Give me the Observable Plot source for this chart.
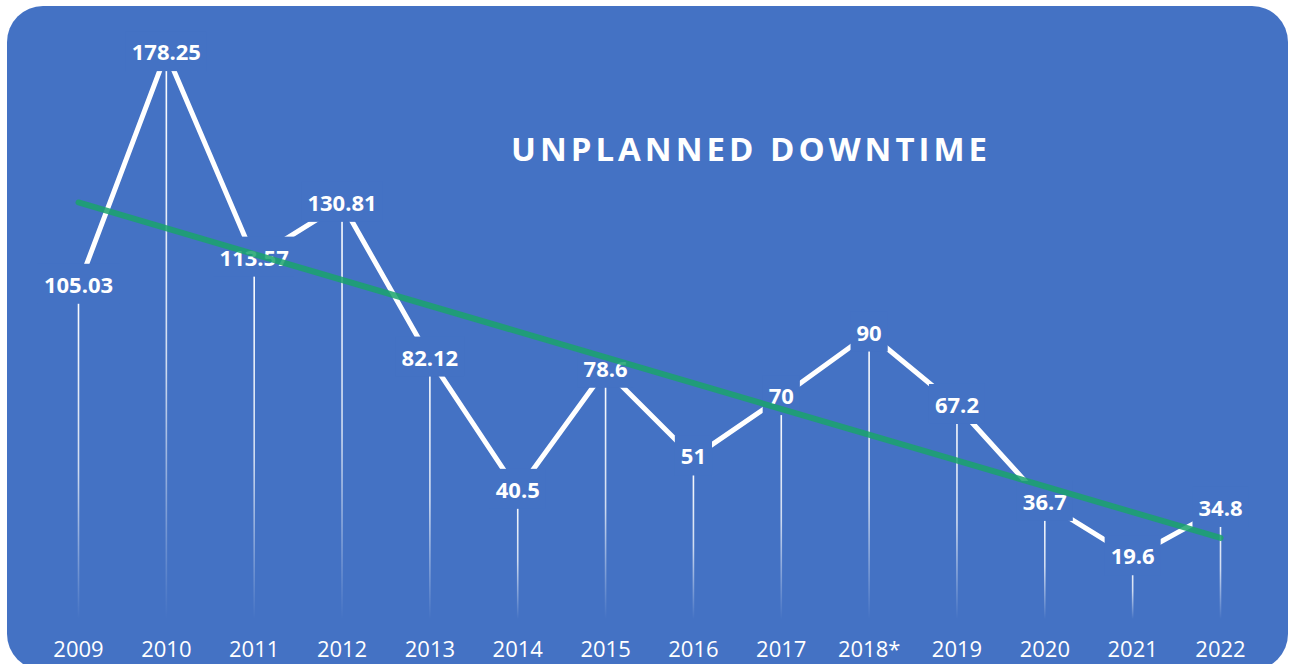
<!DOCTYPE html>
<html><head><meta charset="utf-8">
<script src="https://cdn.jsdelivr.net/npm/d3@7"></script>
<script src="https://cdn.jsdelivr.net/npm/@observablehq/plot@0.6"></script>
<style>
html,body{margin:0;padding:0;background:#fff;width:1289px;height:664px;overflow:hidden;}
#card{position:absolute;left:7px;top:6px;width:1281px;height:664px;border-radius:36px;background:#4472C4;}
#chart{position:absolute;left:0;top:0;}
#title{position:absolute;left:251px;top:130px;width:1000px;text-align:center;
  font-family:'Open Sans',sans-serif;font-weight:bold;font-size:33px;line-height:38px;letter-spacing:4px;color:#fff;}
</style>
</head><body>
<div id="card"></div>
<div id="chart"></div>
<div id="title">UNPLANNED DOWNTIME</div>
<script>
const years = ["2009","2010","2011","2012","2013","2014","2015","2016","2017","2018*","2019","2020","2021","2022"];
const downtime = [105.03,178.25,113.57,130.81,82.12,40.5,78.6,51,70,90,67.2,36.7,19.6,34.8];
const valueLabels = ["105.03","178.25","113.57","130.81","82.12","40.5","78.6","51","70","90","67.2","36.7","19.6","34.8"];

const bg = "#4472C4";
const data = years.map((year, i) => ({i, year, value: downtime[i], label: valueLabels[i]}));

const chart = Plot.plot({
  width: 1289, height: 664,
  marginLeft: 78, marginRight: 69, marginTop: 47, marginBottom: 45,
  style: {background: "transparent", fontFamily: "'Open Sans', sans-serif", color: "white", overflow: "visible"},
  x: {domain: [0, years.length - 1], axis: null},
  y: {domain: [0, 180], axis: null},
  marks: [
    Plot.ruleX(data, {x: "i", y1: "value", y2: 0, stroke: "white", strokeWidth: 1.6}),
    Plot.line(data, {x: "i", y: "value", stroke: "white", strokeWidth: 5}),
    Plot.text(data, {x: "i", y: "value", text: "label", fill: "white", stroke: bg, strokeWidth: 8,
      fontSize: 22, fontWeight: "bold"}),
    Plot.linearRegressionY(data, {x: "i", y: "value", ci: 0, stroke: "#1aa36c", strokeWidth: 6, strokeOpacity: 0.85}),
    Plot.axisX(d3.range(years.length), {tickFormat: i => years[i], tickSize: 0, tickPadding: 22,
      fontSize: 22, fill: "white", label: null})
  ]
});
document.getElementById("chart").appendChild(chart);

const ns = "http://www.w3.org/2000/svg";

// label background boxes (masking the lines, as in the original)
const textG = chart.querySelector('g[aria-label="text"]');
if (textG) {
  const boxG = document.createElementNS(ns, "g");
  if (textG.getAttribute("transform")) boxG.setAttribute("transform", textG.getAttribute("transform"));
  textG.querySelectorAll("text").forEach(t => {
    const b = t.getBBox();
    const r = document.createElementNS(ns, "rect");
    const px = 6, py = 5;
    r.setAttribute("x", b.x - px);
    r.setAttribute("y", b.y - py);
    r.setAttribute("width", b.width + 2 * px);
    r.setAttribute("height", b.height + 2 * py);
    r.setAttribute("fill", bg);
    if (t.getAttribute("transform")) r.setAttribute("transform", t.getAttribute("transform"));
    boxG.appendChild(r);
  });
  textG.parentNode.insertBefore(boxG, textG);
}

// fading gradient for drop lines
const defs = document.createElementNS(ns, "defs");
chart.insertBefore(defs, chart.firstChild);
chart.querySelectorAll('g[aria-label="rule"] line').forEach((ln, k) => {
  const x = ln.getAttribute("x1") || "0";
  const y1 = ln.getAttribute("y1"), y2 = ln.getAttribute("y2");
  const g = document.createElementNS(ns, "linearGradient");
  g.setAttribute("id", "fade" + k);
  g.setAttribute("gradientUnits", "userSpaceOnUse");
  g.setAttribute("x1", x); g.setAttribute("x2", x);
  g.setAttribute("y1", y1); g.setAttribute("y2", y2);
  [[0, 1], [0.55, 0.75], [1, 0]].forEach(([o, op]) => {
    const s = document.createElementNS(ns, "stop");
    s.setAttribute("offset", o);
    s.setAttribute("stop-color", "white");
    s.setAttribute("stop-opacity", op);
    g.appendChild(s);
  });
  defs.appendChild(g);
  ln.setAttribute("stroke", `url(#fade${k})`);
});
</script>
</body></html>
